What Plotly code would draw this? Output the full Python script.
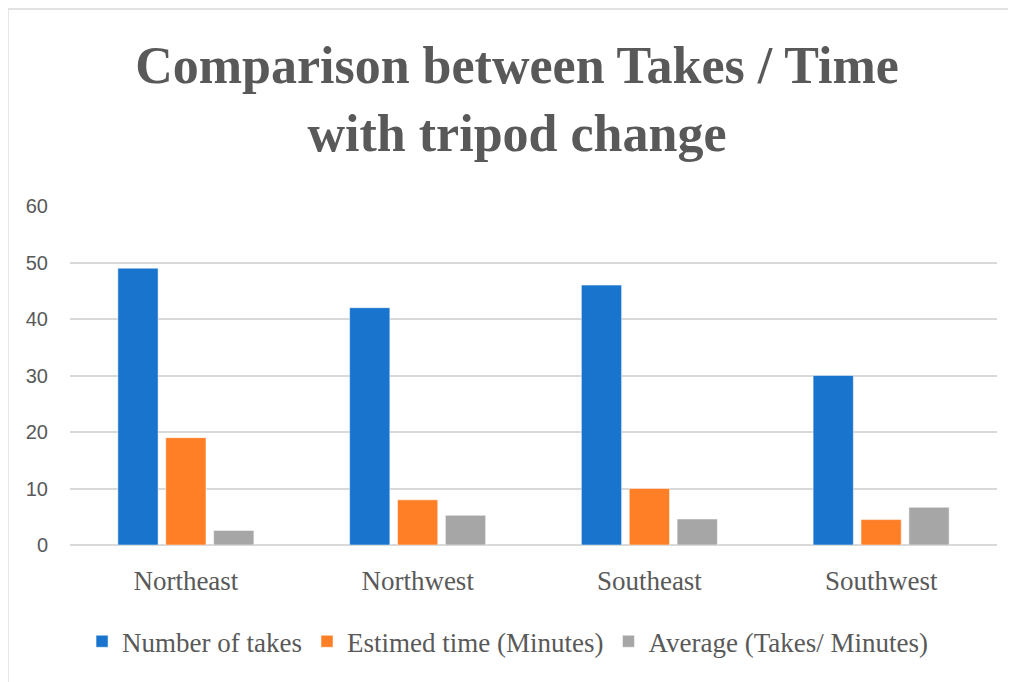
import plotly.graph_objects as go

regions = ["Northeast", "Northwest", "Southeast", "Southwest"]
takes = [49, 42, 46, 30]
est_time = [19, 8, 10, 4.5]
avg_rate = [2.58, 5.25, 4.6, 6.67]

series = [
    ("Number of takes", takes, "#1874cd"),
    ("Estimed time (Minutes)", est_time, "#ff7f27"),
    ("Average (Takes/ Minutes)", avg_rate, "#a6a6a6"),
]

SERIF = "Liberation Serif, serif"
GREY_TXT = "#595959"

fig = go.Figure()
for name, vals, color in series:
    fig.add_trace(
        go.Bar(
            x=regions,
            y=vals,
            name=name,
            marker={"color": color, "line": {"color": "white", "width": 0.5}},
        )
    )

fig.update_layout(
    width=1016,
    height=682,
    paper_bgcolor="white",
    plot_bgcolor="white",
    margin={"l": 62, "r": 27, "t": 198, "b": 145},
    barmode="group",
    bargap=0.38,
    bargroupgap=0.16,
    title={
        "text": "<b>Comparison between Takes / Time<br>with tripod change</b>",
        "font": {"family": SERIF, "size": 52, "color": GREY_TXT},
        "x": 0.501,
        "xanchor": "center",
        "xref": "container",
        "y": 0.89,
        "yanchor": "bottom",
        "yref": "container",
    },
    legend={
        "orientation": "h",
        "x": 0.013,
        "xanchor": "left",
        "y": -0.213,
        "yanchor": "top",
        "font": {"family": SERIF, "size": 27, "color": GREY_TXT},
        "itemwidth": 30,
    },
    showlegend=True,
)

fig.update_xaxes(
    showgrid=False,
    showline=False,
    ticks="outside",
    ticklen=12,
    tickcolor="rgba(0,0,0,0)",
    tickfont={"family": SERIF, "size": 27, "color": GREY_TXT},
)
fig.update_yaxes(
    range=[0, 60],
    dtick=10,
    showgrid=True,
    gridcolor="#d9d9d9",
    gridwidth=1.5,
    zeroline=True,
    zerolinecolor="#d9d9d9",
    zerolinewidth=1.5,
    ticks="outside",
    ticklen=17,
    tickcolor="rgba(0,0,0,0)",
    tickfont={"family": "Liberation Sans, sans-serif", "size": 20, "color": GREY_TXT},
)

# chart-area frame (top and left edges visible in the reference)
frame = {"color": "#d9d9d9", "width": 1.5}
fig.add_shape(type="line", xref="paper", yref="paper", x0=-0.067, x1=1.05, y0=1.581, y1=1.581, line=frame)
fig.add_shape(type="line", xref="paper", yref="paper", x0=-0.067, x1=-0.067, y0=1.581, y1=-0.45, line=frame)

fig.write_html("out.html")
